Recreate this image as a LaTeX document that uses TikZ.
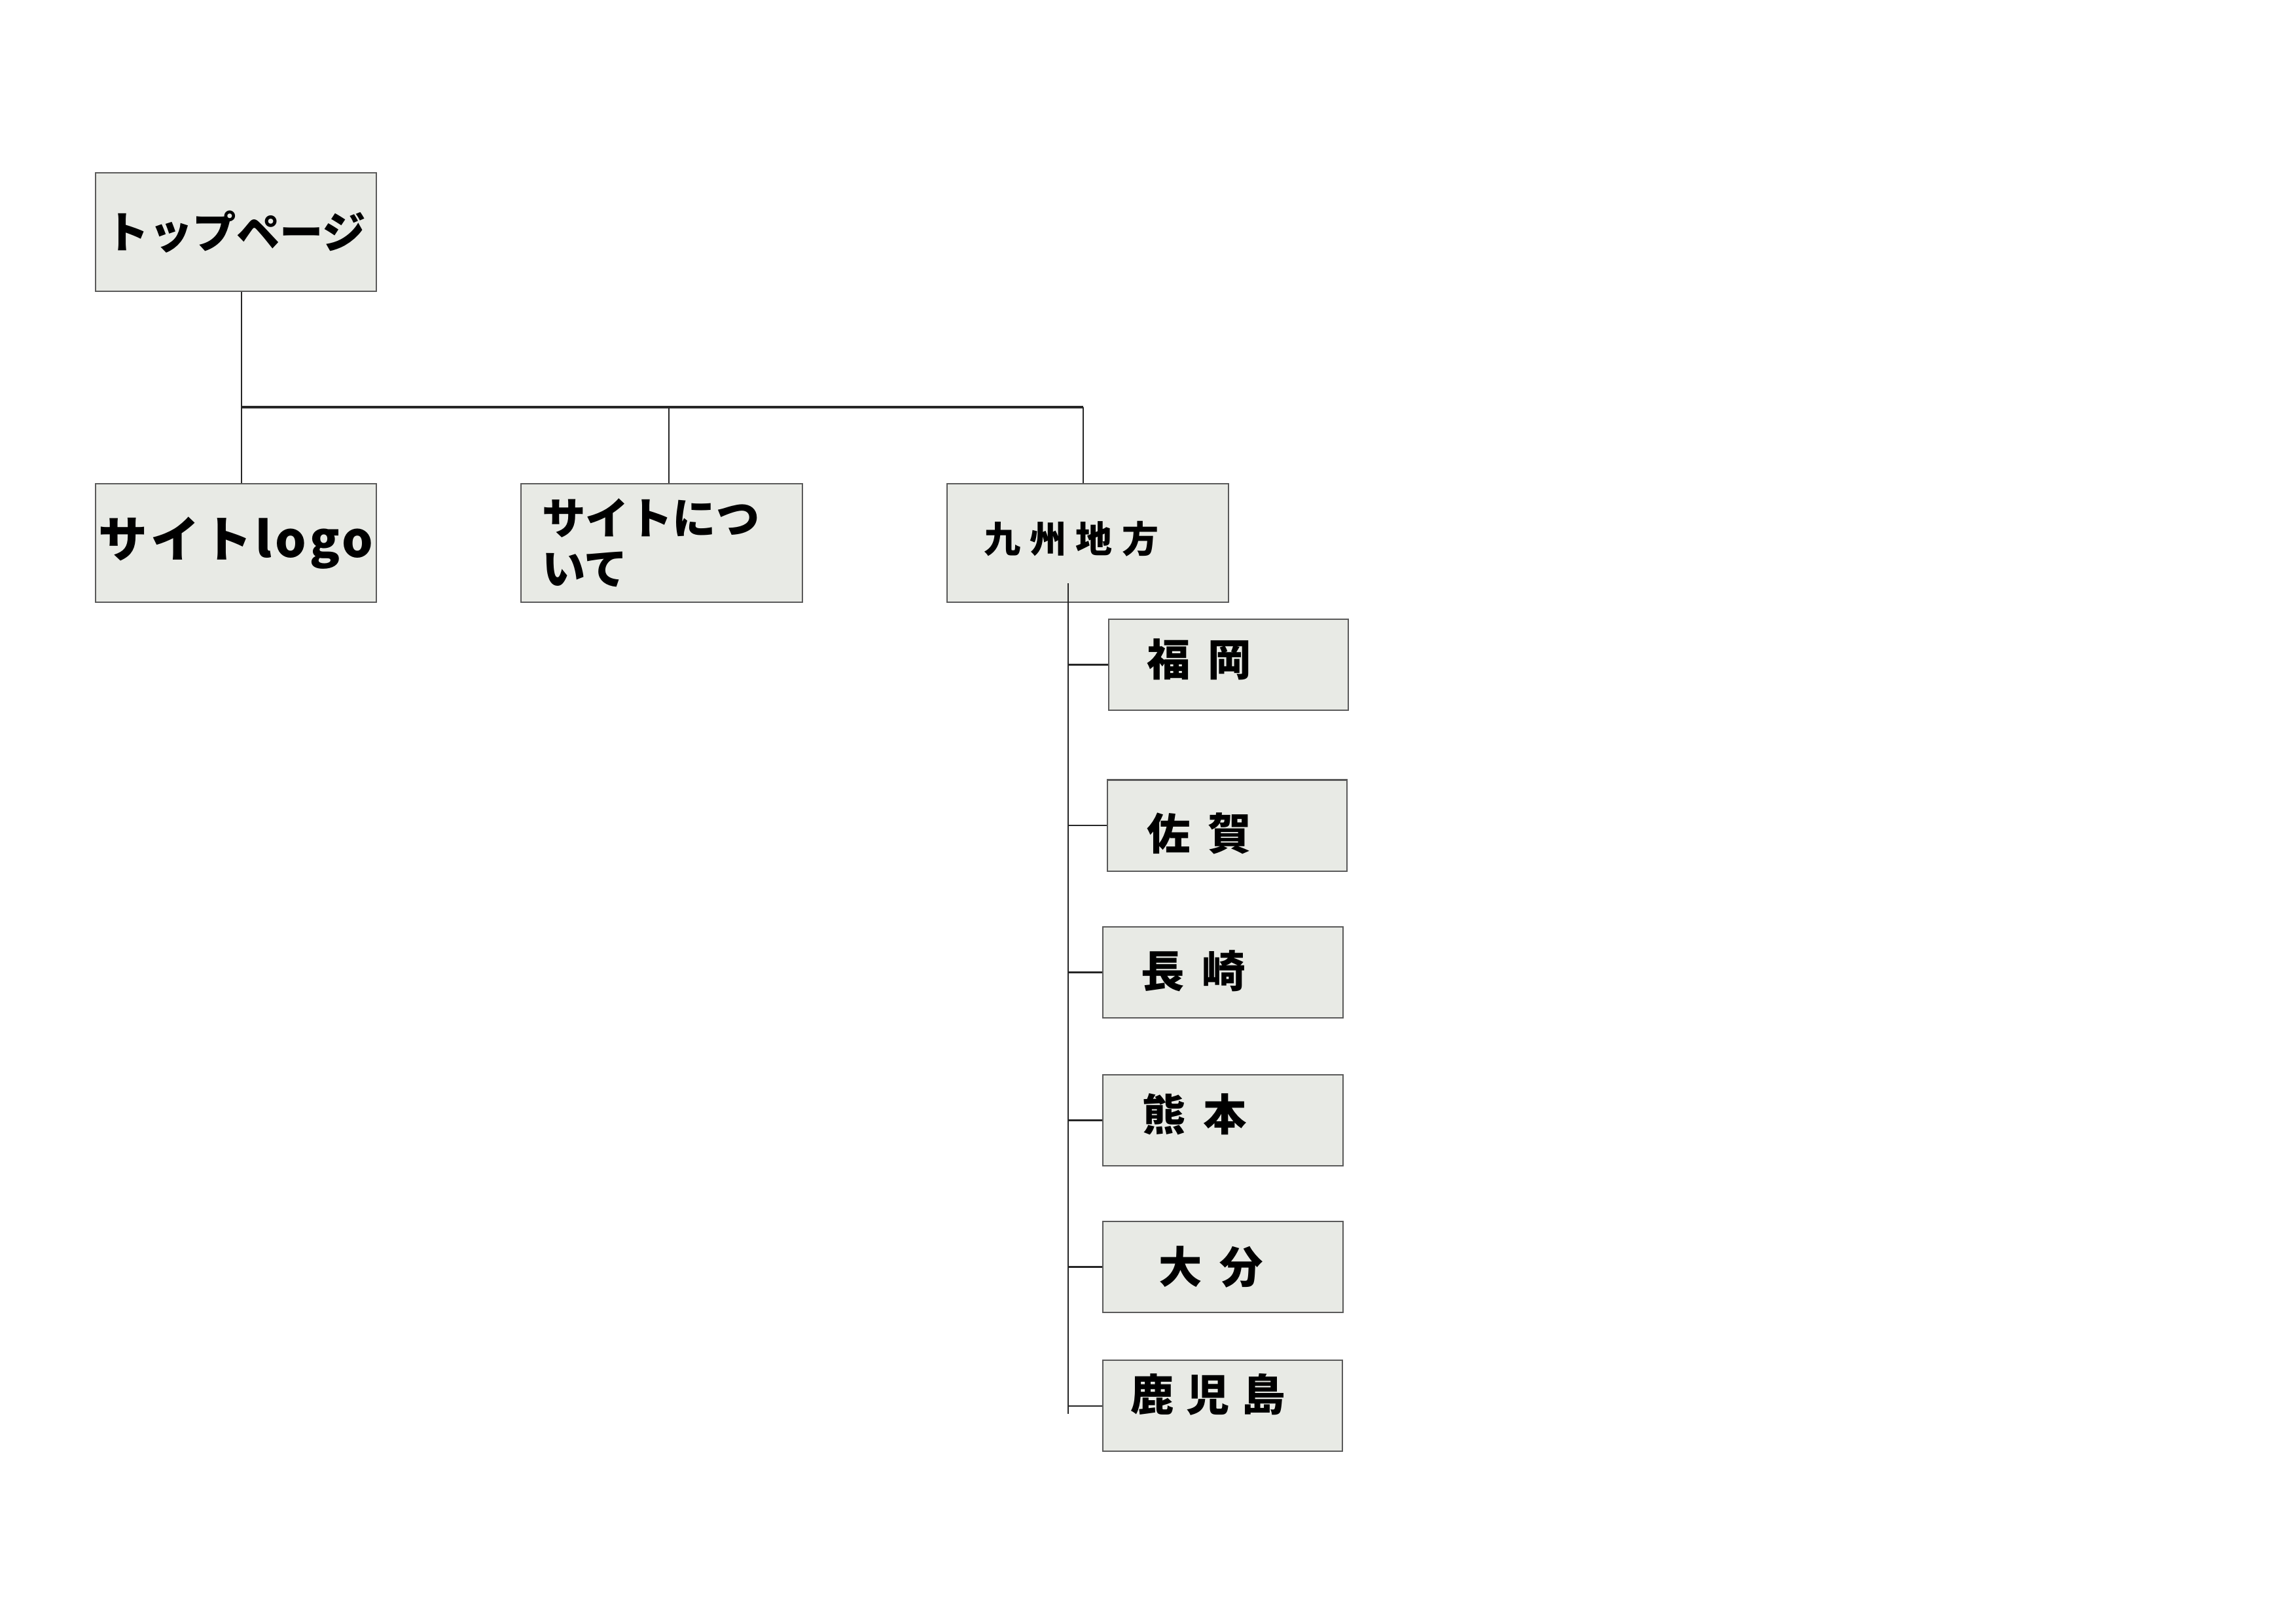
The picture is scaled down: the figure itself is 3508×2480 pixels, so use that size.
\documentclass[tikz,border=0pt]{standalone}
\usepackage{fontspec}
\newfontfamily\jp{Noto Sans CJK JP}
\usetikzlibrary{positioning}

\definecolor{boxgray}{RGB}{232,234,229}
\definecolor{edgegray}{RGB}{90,90,90}

\tikzset{
  box/.style={draw=edgegray, fill=boxgray, line width=0.5pt, inner sep=0pt,
    minimum width=103.4pt, minimum height=43.6pt},
  subbox/.style={box, minimum width=88.2pt, minimum height=33.5pt},
  title/.style={font=\jp\bfseries\fontsize{16}{18.5}\selectfont},
  pref/.style={anchor=west, inner sep=0pt,
    font=\jp\bfseries\fontsize{16}{18}\selectfont\addfontfeature{LetterSpace=40}},
  link/.style={line width=0.5pt, black!85},
}

\begin{document}
\begin{tikzpicture}[x=0.24088pt, y=-0.24088pt]
\useasboundingbox (0,0) rectangle (3508,2480);

% first level
\node [box, title] (top) at (360.5,354.5) {トップページ};

\node [box, font=\jp\bfseries\fontsize{18}{20}\selectfont\addfontfeature{LetterSpace=7}] (logo) at (360.5,829.5) {サイトlogo};
\node [box, title, text width=88pt, align=left, inner xsep=7.7pt] (about) at (1011,829.5) {サイトにつ\\いて};
\node [box] (kyushu) at (1662,829.5) {};
\node [anchor=west, inner sep=0pt, font=\jp\bfseries\fontsize{13.5}{16}\selectfont\addfontfeature{LetterSpace=25}] (kyushuT) at (1503,823) {九州地方};

\coordinate (bar) at (369,622);
\draw [link] ([xshift=2pt]top.south) -- ([xshift=2pt]logo.north);
\draw [link, line width=0.8pt] (bar) -- ([xshift=-1.7pt]bar -| kyushu.north);
\draw [link] ([xshift=2.7pt]about.north) -- ([xshift=2.7pt]about.north |- bar);
\draw [link] ([xshift=-1.7pt]kyushu.north) -- ([xshift=-1.7pt]kyushu.north |- bar);

% prefectures
\node [subbox] (fukuoka)   at (1877,1015.5) {};
\node [subbox] (saga)      at (1875,1261)   {};
\node [subbox] (nagasaki)  at (1868.5,1485.5) {};
\node [subbox] (kumamoto)  at (1868.5,1711.5) {};
\node [subbox] (oita)      at (1868.5,1935.5) {};
\node [subbox] (kagoshima) at (1868,2147.5) {};

\node [pref] (fukuokaT)   at (1752,1007) {福岡};
\node [pref] (sagaT)      at (1752,1273) {佐賀};
\node [pref] (nagasakiT)  at (1743,1483) {長崎};
\node [pref] (kumamotoT)  at (1745,1702) {熊本};
\node [pref] (oitaT)      at (1770,1935) {大分};
\node [pref, font=\jp\bfseries\fontsize{16}{18}\selectfont\addfontfeature{LetterSpace=28}] (kagoshimaT) at (1727,2130) {鹿児島};

\coordinate (trunk) at (1632,891);
\coordinate (trunkEnd) at (1632,2160);
\draw [link] (trunk) -- (trunkEnd);
\foreach \p in {fukuoka,saga,nagasaki,kumamoto,oita,kagoshima}
  \draw [link] (trunk |- \p.west) -- (\p.west);

\end{tikzpicture}
\end{document}
